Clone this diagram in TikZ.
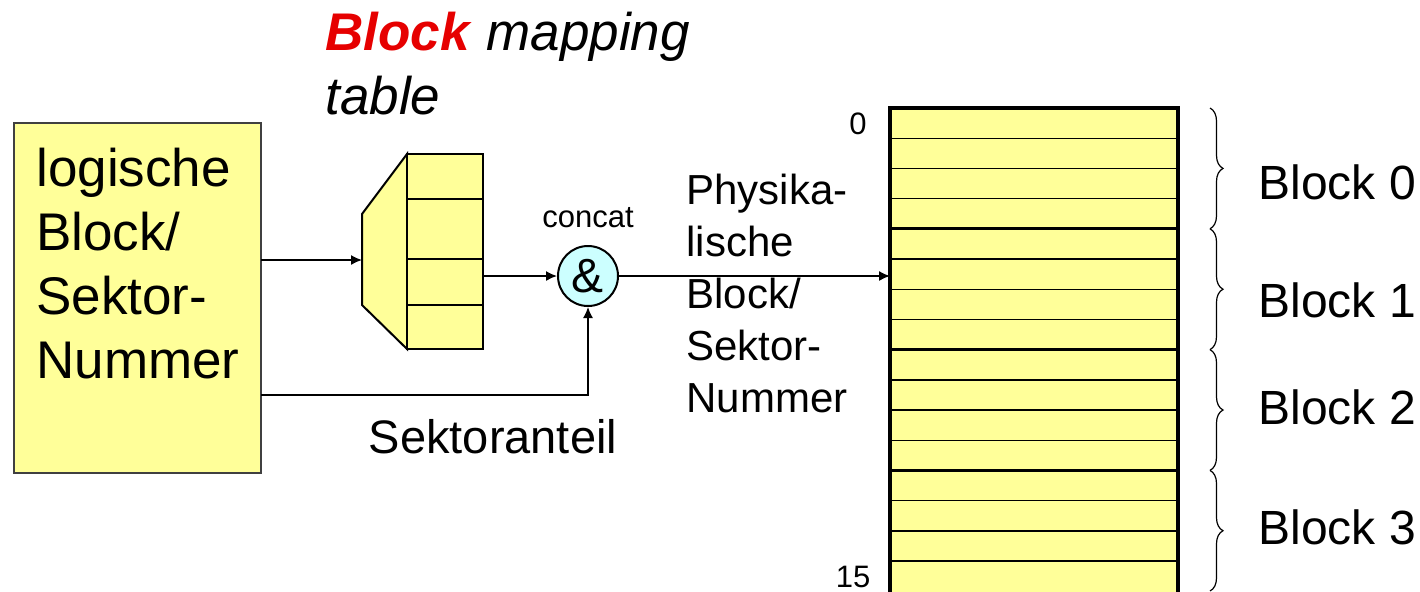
\documentclass[tikz,border=0pt]{standalone}
\usepackage{fontspec}
\setmainfont{Liberation Sans}
\usetikzlibrary{arrows.meta,decorations.pathreplacing}
\definecolor{lyellow}{HTML}{FFFF99}
\definecolor{lcyan}{HTML}{CCFFFF}
\definecolor{tred}{HTML}{E60000}
\begin{document}
\begin{tikzpicture}[x=0.5pt,y=-0.5pt,
  conn/.style={line width=0.75pt,-{Latex[length=5.5pt,width=5pt]}},
  big/.style={font=\fontsize{26.5}{32}\selectfont},
  mid/.style={font=\fontsize{21}{26}\selectfont},
  blk/.style={font=\fontsize{24}{28}\selectfont, anchor=west, inner sep=0pt},
  small/.style={font=\fontsize{15.5}{18}\selectfont, inner sep=0pt},
  brc/.style={decorate, decoration={brace, amplitude=6.5pt}, line width=0.6pt},
  row/.style={line width=0.7pt},
  grp/.style={line width=1.6pt}]
\useasboundingbox (0,0) rectangle (1420,591);

% left box
\node[draw=black!75, line width=0.6pt, fill=lyellow, minimum width=123.5pt, minimum height=175pt, inner sep=0pt] (lbox) at (137.5,298) {};
\node[big, align=left, anchor=west, inner sep=0pt] (ltext) at (36,264) {logische\\Block/\\Sektor-\\Nummer};
\coordinate (lout1) at (261,260);
\coordinate (lout2) at (261,395);

% title
\node[big, align=left, anchor=west, inner sep=0pt] (title) at (325,64)
  {\textcolor{tred}{\textbf{\textit{Block}}} \textit{mapping}\\\textit{table}};

% mapping table
\draw[line width=1pt, fill=lyellow] (407,154) -- (362,214) -- (362,305) -- (407,349) -- cycle;
\draw[line width=1pt, fill=lyellow] (407,154) rectangle (483,349);
\foreach \yy in {199,259,305} \draw[line width=1pt] (407,\yy) -- (483,\yy);
\coordinate (mtin) at (362,260);
\coordinate (mtout) at (483,276);

% concat
\node[draw, line width=1pt, fill=lcyan, circle, minimum size=30pt, inner sep=0pt, font=\fontsize{24}{28}\selectfont] (cat) at (588,276) {\&};
\node[small] (catlbl) at (588,218) {concat};

% disk
\fill[lyellow] (890,108) rectangle (1178,595);
\foreach \i in {1,2,3,5,6,7,9,10,11,13,14,15}
  \draw[row] (890,108+30.2*\i) -- (1178,108+30.2*\i);
\foreach \i in {4,8,12}
  \draw[grp] (890,108+30.2*\i) -- (1178,108+30.2*\i);
\draw[grp] (890,598) -- (890,108) -- (1178,108) -- (1178,598);
\coordinate (diskin) at (890,276);
\node[small] (n0) at (858,124) {0};
\node[small] (n15) at (853,577) {15};

% braces
\coordinate (b0) at (1210,108);
\coordinate (b1) at (1210,228.8);
\coordinate (b2) at (1210,349.6);
\coordinate (b3) at (1210,470.4);
\coordinate (b4) at (1210,591);
\draw[brc] (b0) -- (b1);
\draw[brc] (b1) -- (b2);
\draw[brc] (b2) -- (b3);
\draw[brc] (b3) -- (b4);
\node[blk] (B0) at (1258,182) {Block 0};
\node[blk] (B1) at (1258,300) {Block 1};
\node[blk] (B2) at (1258,407) {Block 2};
\node[blk] (B3) at (1258,527) {Block 3};

% labels
\node[mid, align=left, anchor=west, inner sep=0pt] (phys) at (686,293.5) {Physika-\\lische\\Block/\\Sektor-\\Nummer};
\node[font=\fontsize{23.5}{28}\selectfont, inner sep=0pt] (sekt) at (493,437) {Sektoranteil};

% connectors
\draw[conn] (lout1) -- (mtin);
\draw[conn] (mtout) -- (cat.west);
\draw[conn] (lout2) -| (cat.south);
\draw[conn] (cat.east) -- (diskin);
\end{tikzpicture}
\end{document}
